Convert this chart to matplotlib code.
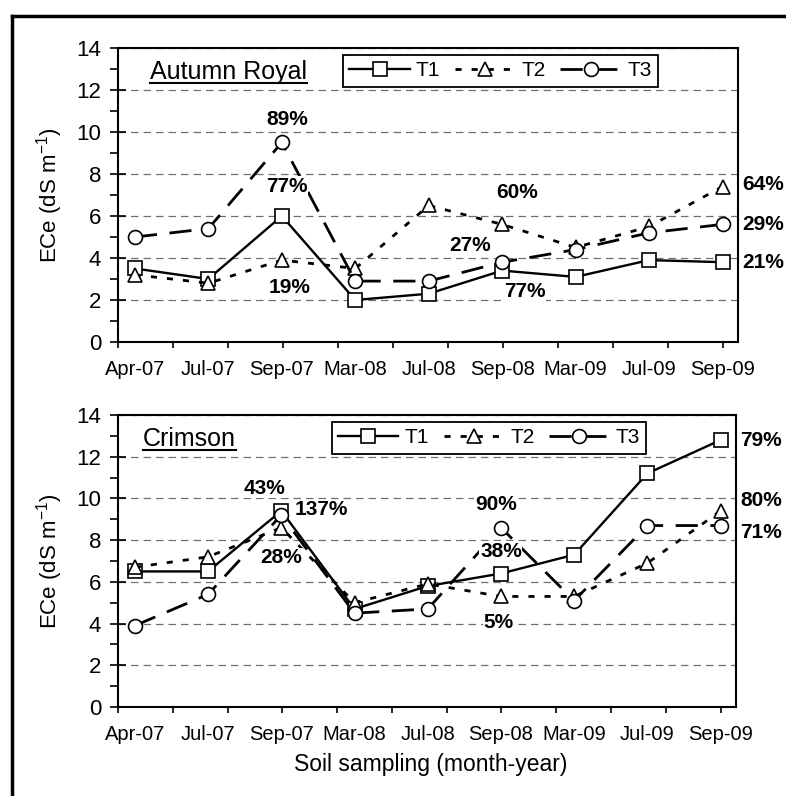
import numpy as np
import matplotlib
matplotlib.use('Agg')
import matplotlib.pyplot as plt
from matplotlib.lines import Line2D

plt.rcParams['font.family'] = ['Liberation Sans', 'DejaVu Sans']
plt.rcParams['mathtext.fontset'] = 'custom'
plt.rcParams['mathtext.rm'] = 'Liberation Sans'
plt.rcParams['mathtext.default'] = 'regular'

# Sampling dates (category axis)
dates = ['Apr-07', 'Jul-07', 'Sep-07', 'Mar-08', 'Jul-08',
         'Sep-08', 'Mar-09', 'Jul-09', 'Sep-09']
treatments = ['T1', 'T2', 'T3']

# ECe (dS m-1), Autumn Royal
ar_t1 = [3.5, 3.0, 6.0, 2.0, 2.3, 3.4, 3.1, 3.9, 3.8]
ar_t2 = [3.2, 2.8, 3.9, 3.5, 6.5, 5.6, 4.5, 5.5, 7.4]
ar_t3 = [5.0, 5.4, 9.5, 2.9, 2.9, 3.8, 4.4, 5.2, 5.6]

# ECe (dS m-1), Crimson
cr_t1 = [6.5, 6.5, 9.4, 4.7, 5.8, 6.4, 7.3, 11.2, 12.8]
cr_t2 = [6.7, 7.2, 8.6, 5.0, 5.9, 5.3, 5.3, 6.9, 9.4]
cr_t3 = [3.9, 5.4, 9.2, 4.5, 4.7, 8.6, 5.1, 8.7, 8.7]

# percentage labels
ar_pct = ['89%', '77%', '19%', '27%', '60%', '77%', '64%', '29%', '21%']
cr_pct = ['43%', '137%', '28%', '90%', '38%', '5%', '79%', '80%', '71%']

# where the percentage labels sit (x index, y value, alignment)
ar_pct_pos = [(2.08, 10.6, 'center'), (2.07, 7.4, 'center'), (2.1, 2.6, 'center'),
              (4.56, 4.6, 'center'), (5.21, 7.1, 'center'), (5.31, 2.4, 'center'),
              (8.27, 7.5, 'left'), (8.27, 5.6, 'left'), (8.27, 3.8, 'left')]
cr_pct_pos = [(1.77, 10.5, 'center'), (2.18, 9.45, 'left'), (2.0, 7.15, 'center'),
              (4.93, 9.7, 'center'), (5.0, 7.45, 'center'), (4.97, 4.05, 'center'),
              (8.27, 12.8, 'left'), (8.27, 9.9, 'left'), (8.27, 8.35, 'left')]

styles = [
    dict(marker='s', ms=10, lw=1.7, ls='-'),
    dict(marker='^', ms=10.5, lw=2.0, ls=(0, (2.2, 3.6))),
    dict(marker='o', ms=10, lw=2.0, ls=(0, (8, 4.5))),
]

W, H = 786, 796
fig = plt.figure(figsize=(W / 100, H / 100), dpi=100)
ax1 = fig.add_axes([118 / W, 1 - 342 / H, 620 / W, 294 / H])
ax2 = fig.add_axes([118 / W, 1 - 707 / H, 618 / W, 292 / H])


def draw_panel(ax, series, title, title_x, pct, pct_pos, leg_x):
    x = np.arange(len(dates))
    handles = []
    for vals, st in zip(series, styles):
        h, = ax.plot(x, vals, color='black', marker=st['marker'], ms=st['ms'],
                     mfc='white', mec='black', mew=1.2, lw=st['lw'], ls=st['ls'],
                     clip_on=False, zorder=3)
        handles.append(h)

    ax.set_ylim(0, 14)
    ax.set_yticks(range(0, 15, 2))
    ax.set_yticks(range(1, 14, 2), minor=True)
    ax.yaxis.grid(True, which='major', color='#707070', lw=0.9, ls=(0, (6, 4)))
    ax.set_axisbelow(True)

    # tick marks and date labels sit on different spacings
    ax.xaxis.remove_overlapping_locs = False
    ax.set_xlim(-0.23, 8.21)
    ax.set_xticks(np.linspace(-0.23, 8.0, 12))
    ax.set_xticks(x, minor=True)
    ax.set_xticklabels(dates, minor=True)
    ax.tick_params(axis='x', which='major', direction='out', length=4.5,
                   width=1.2, labelbottom=False)
    ax.tick_params(axis='x', which='minor', length=0, labelsize=14.5, pad=13)
    ax.tick_params(axis='y', which='major', direction='inout', length=12,
                   width=1.2, labelsize=16, pad=6)
    ax.tick_params(axis='y', which='minor', direction='out', length=6, width=1.2)
    for sp in ax.spines.values():
        sp.set_linewidth(1.5)

    ax.set_ylabel('ECe (dS m$^{-1}$)', fontsize=16)
    ax.yaxis.set_label_coords(-0.085, 0.5)

    t = ax.text(title_x, 0.895, title, transform=ax.transAxes, fontsize=18,
                ha='left', va='baseline')

    for s, (px, py, ha) in zip(pct, pct_pos):
        ax.text(px, py, s, fontsize=15, fontweight='bold', ha=ha, va='center',
                zorder=4, clip_on=False,
                bbox=dict(facecolor='white', edgecolor='none', pad=0.5))

    leg = ax.legend(handles, treatments, ncol=3, loc='upper left',
                    bbox_to_anchor=(leg_x, 0.976), fontsize=15,
                    handlelength=2.9, handletextpad=0.3, columnspacing=0.7,
                    borderpad=0.3, borderaxespad=0, fancybox=False,
                    edgecolor='black', framealpha=1)
    leg.get_frame().set_linewidth(1.3)
    return t


t_ar = draw_panel(ax1, [ar_t1, ar_t2, ar_t3], 'Autumn Royal', 0.052,
                  ar_pct, ar_pct_pos, 0.363)
t_cr = draw_panel(ax2, [cr_t1, cr_t2, cr_t3], 'Crimson', 0.040,
                  cr_pct, cr_pct_pos, 0.346)

fig.text(431 / W, 1 - 765 / H, 'Soil sampling (month-year)', fontsize=16.5,
         ha='center', va='center')

# underline the panel titles
fig.canvas.draw()
inv = fig.transFigure.inverted()
for t in (t_ar, t_cr):
    bb = t.get_window_extent()
    base = t.get_transform().transform(t.get_position())[1]
    (x0, y0), (x1, _) = inv.transform([(bb.x0, base - 4), (bb.x1, base - 4)])
    fig.add_artist(Line2D([x0, x1], [y0, y0], transform=fig.transFigure,
                          color='black', lw=1.5))

# outer frame (left and top edges)
fx, fy = 12 / W, 1 - 16 / H
fig.add_artist(Line2D([fx, fx], [0, fy], transform=fig.transFigure,
                      color='black', lw=2.5, solid_capstyle='projecting'))
fig.add_artist(Line2D([fx, 1], [fy, fy], transform=fig.transFigure,
                      color='black', lw=2.5, solid_capstyle='projecting'))

fig.savefig('out.png', dpi=100)
